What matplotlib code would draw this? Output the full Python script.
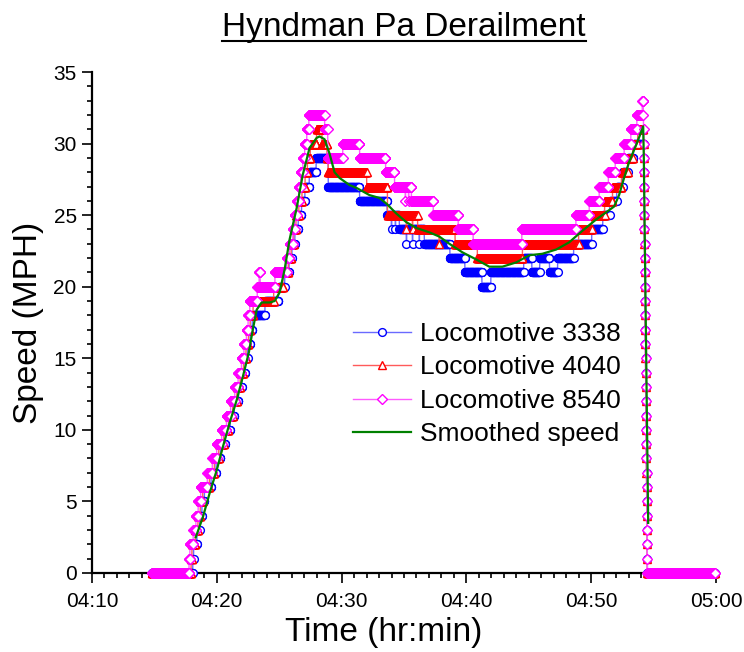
import numpy as np
import pandas as pd
import matplotlib
matplotlib.use("Agg")
import matplotlib.pyplot as plt
import matplotlib.dates as mdates
from matplotlib.lines import Line2D
from matplotlib.ticker import MultipleLocator

plt.rcParams['font.family'] = ['Liberation Sans', 'DejaVu Sans']

# time origin: 04:10:00, all times below are seconds after it
T0 = pd.Timestamp('2017-08-02 04:10:00')
T_END = 2995

# speed change points (seconds after 04:10, new speed in MPH)
t_3338 = [288, 485, 489, 505, 518, 529, 541, 573, 597, 618, 642, 665, 685, 705, 721,
          737, 749, 761, 771, 832, 897, 927, 948, 962, 976, 992, 1008, 1024, 1045, 1078,
          1136, 1287, 1419, 1440, 1441, 1459, 1460, 1478, 1512, 1513, 1541, 1542, 1574,
          1575, 1598, 1721, 1793, 1875, 1918, 2076, 2115, 2153, 2200, 2239, 2316, 2403,
          2456, 2489, 2523, 2552, 2576, 2604]
v_3338 = [0, 1, 2, 3, 4, 5, 6, 7, 8, 9, 10, 11, 12, 13, 14,
          15, 16, 17, 18, 19, 20, 21, 22, 23, 24, 25, 26, 27, 28, 29,
          27, 26, 25, 24, 25, 24, 25, 24, 23, 24, 23, 24, 23,
          24, 23, 22, 21, 20, 21, 22, 21, 22, 21, 22, 23, 24,
          25, 26, 27, 28, 29, 30]

t_4040 = [288, 477, 481, 497, 510, 521, 533, 565, 589, 610, 634, 657, 677, 697, 713,
          729, 741, 753, 761, 775, 874, 918, 945, 958, 970, 981, 995, 1010, 1025, 1036,
          1050, 1080, 1106, 1130, 1136, 1321, 1421, 1512, 1513, 1541, 1542, 1566, 1670,
          1671, 1746, 1853, 2070, 2340, 2403, 2465, 2503, 2546, 2576, 2600, 2624]
v_4040 = [0, 1, 2, 3, 4, 5, 6, 7, 8, 9, 10, 11, 12, 13, 14,
          15, 16, 17, 18, 19, 20, 21, 22, 23, 24, 25, 26, 27, 28, 29,
          30, 31, 30, 29, 28, 27, 25, 24, 25, 24, 25, 24, 23,
          24, 23, 22, 23, 24, 25, 26, 27, 28, 29, 30, 31]

t_8540 = [288, 467, 471, 487, 500, 511, 523, 555, 579, 600, 624, 647, 667, 687, 703,
          719, 731, 743, 751, 759, 795, 804, 809, 880, 937, 950, 966, 975, 985, 995,
          1004, 1014, 1023, 1033, 1043, 1119, 1134, 1206, 1287, 1412, 1455, 1507, 1508,
          1522, 1523, 1536, 1641, 1761, 1833, 2067, 2327, 2391, 2439, 2483, 2516, 2559,
          2591, 2620, 2646]
v_8540 = [0, 1, 2, 3, 4, 5, 6, 7, 8, 9, 10, 11, 12, 13, 14,
          15, 16, 17, 18, 19, 20, 21, 20, 21, 22, 23, 24, 25, 26, 27,
          28, 29, 30, 31, 32, 31, 29, 30, 29, 28, 27, 26, 27,
          26, 27, 26, 25, 24, 23, 24, 25, 26, 27, 28, 29, 30,
          31, 32, 33]

# final drop to a stop (same for all three recorders)
drop_dt = [0.0, 0.6, 1.2, 1.8, 2.4, 3.0, 3.6, 4.2, 4.8, 5.4, 6.0, 6.6, 7.2, 7.8, 8.4,
           9.0, 9.6, 10.2, 10.8, 11.4, 12.0, 12.6, 13.2, 13.8, 14.4, 15.0, 15.6, 16.2,
           16.8, 17.4, 18.0, 18.6, 19.2]
drop_v = [32, 31, 30, 29, 28, 27, 26, 25, 24, 23, 22, 21, 20, 19, 18, 17, 16, 15, 14,
          13, 12, 11, 10, 9, 8, 7, 6, 5, 4, 3, 2, 1, 0]
drop_start = {'3338': 2653.0, '4040': 2652.0, '8540': 2651.0}

# smoothed speed
t_smooth = [499, 533, 566, 600, 629, 662, 696, 725, 754, 773, 792, 816, 854, 878, 902,
            926, 950, 984, 1013, 1046, 1080, 1094, 1118, 1142, 1166, 1190, 1238, 1272,
            1334, 1382, 1416, 1464, 1512, 1560, 1622, 1670, 1718, 1781, 1848, 1910, 1973,
            2040, 2102, 2165, 2232, 2294, 2357, 2424, 2472, 2510, 2534, 2558, 2582, 2616,
            2640, 2650, 2653, 2674]
v_smooth = [2.5, 3.9, 5.6, 7.2, 8.8, 10.5, 12.1, 13.7, 15.4, 17.0, 18.4, 18.9, 18.9, 19.0,
            19.6, 21.2, 23.3, 25.5, 27.8, 29.7, 30.4, 30.5, 30.3, 29.3, 28.0, 27.6, 27.1,
            26.9, 26.4, 26.2, 25.8, 25.1, 24.5, 24.1, 23.8, 23.5, 23.0, 22.4, 21.9, 21.4,
            21.4, 21.7, 22.2, 22.3, 22.6, 23.1, 23.9, 24.7, 25.2, 25.6, 26.4, 27.6, 28.7,
            29.9, 30.8, 31.2, 29.0, 3.5]


def to_num(sec):
    return mdates.date2num((T0 + pd.to_timedelta(np.asarray(sec, float), unit='s')).to_pydatetime())


def expand(ct, cv, key):
    # the recorder logs one sample per second; change points -> samples
    dv = np.array(drop_v)
    keep = dv < cv[-1]
    dt = np.array(drop_dt)[keep]
    ct = list(ct) + list(drop_start[key] + dt - dt[0])
    cv = list(cv) + list(dv[keep])
    ends = ct[1:] + [T_END]
    ts, vs = [], []
    for a, b, v in zip(ct, ends, cv):
        seg = np.arange(a, b, 1.0)
        ts.append(seg)
        vs.append(np.full(len(seg), v))
    return to_num(np.concatenate(ts)), np.concatenate(vs)


fig = plt.figure(figsize=(7.44, 6.52), dpi=100)
ax = fig.add_axes([92 / 744, 1 - 573 / 652, 624 / 744, 501 / 652])

styles = [
    ('3338', t_3338, v_3338, 'Locomotive 3338', '#6a6aff', '#0000ff', 'o', 5.6),
    ('4040', t_4040, v_4040, 'Locomotive 4040', '#ff5a5a', '#ff0000', '^', 6.2),
    ('8540', t_8540, v_8540, 'Locomotive 8540', '#ff5aff', '#ff00ff', 'D', 5.2),
]
for i, (key, ct, cv, lab, lc, mc, mk, ms) in enumerate(styles):
    x, y = expand(ct, cv, key)
    ax.plot(x, y, color=lc, lw=1.0, marker=mk, ms=ms, mec=mc, mfc='white', mew=1.0,
            label=lab, clip_on=False, zorder=3 + i)

ax.plot(to_num(t_smooth), v_smooth, color='#008000', lw=1.6, label='Smoothed speed',
        clip_on=False, zorder=7)

ax.set_xlim(to_num([0, 3000]))
ax.set_ylim(0, 35)
ax.xaxis.set_major_locator(mdates.MinuteLocator(byminute=range(0, 60, 10)))
ax.xaxis.set_minor_locator(mdates.MinuteLocator())
ax.xaxis.set_major_formatter(mdates.DateFormatter('%H:%M'))
ax.yaxis.set_major_locator(MultipleLocator(5))
ax.yaxis.set_minor_locator(MultipleLocator(1))

for s in ['top', 'right']:
    ax.spines[s].set_visible(False)
for s in ['left', 'bottom']:
    ax.spines[s].set_linewidth(1.6)
ax.tick_params(which='major', direction='out', length=7, width=1.2, labelsize=15, pad=4)
ax.tick_params(axis='x', which='major', pad=7)
ax.tick_params(which='minor', direction='out', length=3.5, width=1.2)

ax.set_xlabel('Time (hr:min)', fontsize=24)
ax.set_ylabel('Speed (MPH)', fontsize=24)
ax.xaxis.set_label_coords((384 - 92) / 624, (573 - 617) / 501)
ax.yaxis.set_label_coords((44 - 92) / 624, 0.5)

ax.legend(loc='upper left', bbox_to_anchor=(353 / 744, 1 - 322 / 652),
          bbox_transform=fig.transFigure, frameon=False, fontsize=19,
          handlelength=2.2, handletextpad=0.35, labelspacing=0.36, borderpad=0,
          borderaxespad=0, numpoints=1)

# underlined title
title = fig.text(404 / 744, 1 - 36 / 652, 'Hyndman Pa Derailment', fontsize=24,
                 ha='center', va='baseline')
fig.canvas.draw()
bb = title.get_window_extent().transformed(fig.transFigure.inverted())
fig.add_artist(Line2D([bb.x0, bb.x1], [1 - 41 / 652] * 2, color='black', lw=1.5,
                      transform=fig.transFigure))

fig.savefig('out.png', dpi=100)
